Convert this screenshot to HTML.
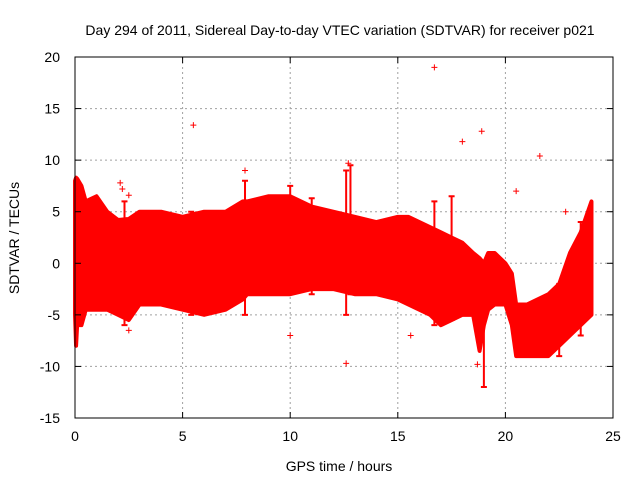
<!DOCTYPE html>
<html><head><meta charset="utf-8"><style>
body{margin:0;background:#fff}
svg{display:block;font-family:"Liberation Sans",sans-serif}
</style></head><body>
<svg id="chart" width="640" height="480">
<rect width="640" height="480" fill="#fff"/>
<g id="grid"></g>
<g id="band"></g>
<g id="outliers"></g>
<rect x="75" y="57" width="538" height="361" fill="none" stroke="#000" stroke-width="1"/>
<g id="ticks"></g>
<text x="340" y="35" font-size="14" text-anchor="middle">Day 294 of 2011, Sidereal Day-to-day VTEC variation (SDTVAR) for receiver p021</text>
<text x="339" y="471" font-size="14" text-anchor="middle">GPS time / hours</text>
<text x="19" y="238" font-size="14" text-anchor="middle" transform="rotate(-90 19 238)">SDTVAR / TECUs</text>
</svg>
<script>
const xTicks=[0,5,10,15,20,25];
const yTicks=[-15,-10,-5,0,5,10,15,20];
const envHours=[0,0.05,0.1,0.3,0.5,0.7,1,1.5,2,2.5,3,4,5,6,7,7.8,8,9,10,11,12,13,14,15,15.5,16,16.5,17,17.5,18,18.5,18.8,19,19.2,19.5,20,20.3,20.5,21,22,22.5,23,23.5,24];
const envUpper=[8,8.3,8.2,7.5,6,6.2,6.5,5,4.2,4.3,5,5,4.5,5,5,6,6,6.5,6.5,5.5,5,4.5,4,4.5,4.5,4,3.5,3,2.5,2,1,0.5,0,1,1,0,-1,-4,-4,-3,-2,1,3,6];
const envLower=[-5,-8,-6,-6,-4.5,-4.5,-4.5,-4.5,-5,-5.5,-4,-4,-4.5,-5,-4.5,-3.5,-3,-3,-3,-2.5,-2.5,-3,-3,-3.5,-4,-4.5,-5,-6,-5.5,-5,-5,-8.5,-6,-4.5,-4,-4,-6,-9,-9,-9,-8,-7,-6,-5];
const spikeX=[2.3,5.4,7.9,10,11,12.6,12.8,16.7,17.5,19,22.5,23.5];
const spikeTop=[6,5,8,7.5,6.3,9,9.5,6,6.5,0,-2,4];
const spikeBot=[-6,-5,-5,-3,-3,-5,-3,-6,-5.5,-12,-9,-7];
const outX=[5.5,7.9,16.7,18,18.9,21.6,20.5,22.8,10,12.6,15.6,18.7,2.5,2.1,12.7,2.5,2.2];
const outY=[13.4,9,19,11.8,12.8,10.4,7,5,-7,-9.7,-7,-9.8,-6.5,7.8,9.7,6.6,7.2];
const X=v=>75+v*538/25, Y=v=>57+(20-v)*361/35;
const NS='http://www.w3.org/2000/svg';
function mk(t,a,p){const e=document.createElementNS(NS,t);for(const k in a)e.setAttribute(k,a[k]);p.appendChild(e);return e;}
const g=document.getElementById('grid'),tk=document.getElementById('ticks');
xTicks.forEach(v=>{
 if(v>0&&v<25){const l=mk('line',{x1:X(v),x2:X(v),y1:57,y2:418,stroke:'#a0a0a0','stroke-dasharray':'2,3'},g);
 }
 mk('line',{x1:X(v),x2:X(v),y1:418,y2:412,stroke:'#000'},tk);
 mk('line',{x1:X(v),x2:X(v),y1:57,y2:63,stroke:'#000'},tk);
 const t=mk('text',{x:X(v),y:441,'font-size':14,'text-anchor':'middle'},tk);t.textContent=v;
 
});
yTicks.forEach(v=>{
 if(v>-15&&v<20){const l=mk('line',{x1:75,x2:613,y1:Y(v),y2:Y(v),stroke:'#a0a0a0','stroke-dasharray':'2,3'},g);
 }
 mk('line',{x1:75,x2:81,y1:Y(v),y2:Y(v),stroke:'#000'},tk);
 mk('line',{x1:613,x2:607,y1:Y(v),y2:Y(v),stroke:'#000'},tk);
 const t=mk('text',{x:60,y:Y(v)+5,'font-size':14,'text-anchor':'end'},tk);t.textContent=v;
 
});
const bg=document.getElementById('band');
let pts=envHours.map((h,i)=>X(h)+','+Y(envUpper[i]));
for(let i=envHours.length-1;i>=0;i--)pts.push(X(envHours[i])+','+Y(envLower[i]));
const poly=mk('polygon',{points:pts.join(' '),fill:'#ff0000',stroke:'#ff0000','stroke-width':4,'stroke-linejoin':'round'},bg);

spikeX.forEach((x,i)=>{
 const s=mk('path',{d:`M${X(x)},${Y(spikeTop[i])}V${Y(spikeBot[i])}M${X(x)-3},${Y(spikeTop[i])}h6M${X(x)-3},${Y(spikeBot[i])}h6`,stroke:'#ff0000','stroke-width':2},bg);
 
});
const og=document.getElementById('outliers');
outX.forEach((x,i)=>{
 const p=mk('path',{d:`M${X(x)-3},${Y(outY[i])}h6M${X(x)},${Y(outY[i])-3}v6`,stroke:'#ff0000','stroke-width':1},og);
 
});
</script>
</body></html>
